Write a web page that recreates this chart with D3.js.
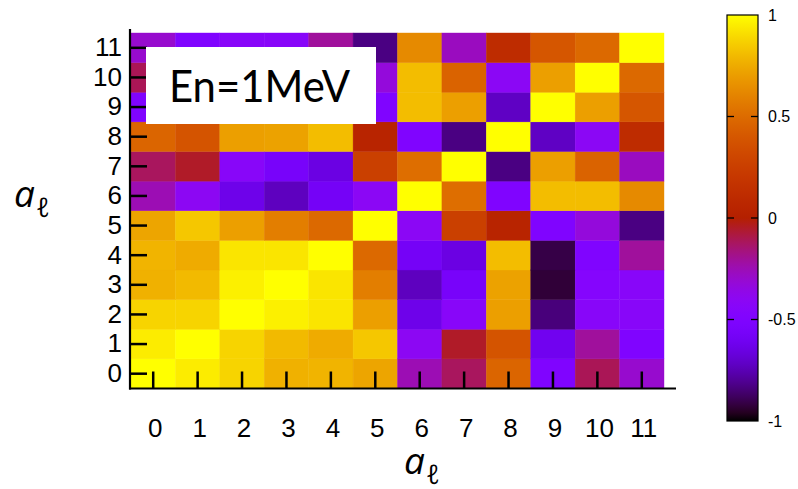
<!DOCTYPE html>
<html>
<head>
<meta charset="utf-8">
<script src="https://cdn.jsdelivr.net/npm/d3@7"></script>
<style>
    body { margin: 0; background: #fff; }
    svg { display: block; }
    .tick text { font-family: "Liberation Sans", Arial, sans-serif; font-size: 26px; fill: #000; }
    .cb-label { font-family: "Liberation Sans", Arial, sans-serif; font-size: 16px; fill: #000; }
    .axis-title { font-family: "Open Sans", "Noto Sans", sans-serif; font-style: italic; fill: #000; }
</style>
</head>
<body>
<div id="chart"></div>
<script>
// Tick labels (same on both axes)
const labels = d3.range(12);

// Correlation matrix, rows are the y value (0 at bottom), columns the x value
const row0  = [ 1.00,  0.95,  0.88,  0.77,  0.78,  0.73, -0.25, -0.12,  0.47, -0.50, -0.11, -0.30];
const row1  = [ 0.95,  1.00,  0.88,  0.80,  0.75,  0.84, -0.40, -0.05,  0.38, -0.61, -0.21, -0.50];
const row2  = [ 0.88,  0.88,  1.00,  0.96,  0.93,  0.71, -0.63, -0.43,  0.71, -0.84, -0.43, -0.43];
const row3  = [ 0.77,  0.80,  0.96,  1.00,  0.93,  0.58, -0.73, -0.56,  0.72, -0.93, -0.46, -0.43];
const row4  = [ 0.78,  0.75,  0.93,  0.93,  1.00,  0.49, -0.58, -0.65,  0.81, -0.91, -0.50, -0.21];
const row5  = [ 0.73,  0.84,  0.71,  0.58,  0.49,  1.00, -0.41,  0.26,  0.04, -0.50, -0.33, -0.83];
const row6  = [-0.25, -0.40, -0.63, -0.73, -0.58, -0.41,  1.00,  0.51, -0.50,  0.81,  0.81,  0.63];
const row7  = [-0.12, -0.05, -0.43, -0.56, -0.65,  0.26,  0.51,  1.00, -0.83,  0.71,  0.46, -0.27];
const row8  = [ 0.47,  0.38,  0.71,  0.72,  0.81,  0.04, -0.50, -0.83,  1.00, -0.72, -0.41,  0.11];
const row9  = [-0.50, -0.61, -0.84, -0.93, -0.91, -0.50,  0.81,  0.71, -0.72,  1.00,  0.71,  0.39];
const row10 = [-0.11, -0.21, -0.43, -0.46, -0.50, -0.33,  0.81,  0.46, -0.41,  0.71,  1.00,  0.49];
const row11 = [-0.30, -0.50, -0.43, -0.43, -0.21, -0.83,  0.63, -0.27,  0.11,  0.39,  0.49,  1.00];
const matrix = [row0, row1, row2, row3, row4, row5, row6, row7, row8, row9, row10, row11];

// Colour bar ticks
const cbTicks = [1, 0.5, 0, -0.5, -1];

const W = 798, H = 489;
const plot = { left: 131, right: 664, top: 33, bottom: 388.5 };
const bar = { x: 727, width: 31, top: 15, bottom: 421 };

// gnuplot default pm3d palette (rgbformulae 7,5,15)
const gnuplot = t => {
    const r = Math.sqrt(t);
    const g = t * t * t;
    const b = Math.max(0, Math.sin(2 * Math.PI * t));
    return d3.rgb(r * 255, g * 255, b * 255).formatHex();
};
const color = d3.scaleSequential(gnuplot).domain([-1, 1]);

const svg = d3.select("#chart")
    .append("svg")
    .attr("width", W)
    .attr("height", H);

// Scales
const x = d3.scaleBand().domain(labels).range([plot.left, plot.right]);
const y = d3.scaleBand().domain(labels).range([plot.bottom, plot.top]);

// Flatten matrix into cells
const cells = [];
matrix.forEach((row, ri) => row.forEach((v, ci) => cells.push({ xi: ci, yi: ri, v })));

svg.append("g")
    .selectAll("rect")
    .data(cells)
    .enter()
    .append("rect")
    .attr("x", d => x(d.xi))
    .attr("y", d => y(d.yi))
    .attr("width", x.bandwidth())
    .attr("height", y.bandwidth())
    .attr("fill", d => color(d.v))
    .attr("stroke", d => color(d.v))
    .attr("stroke-width", 0.4);

// Axes with inward ticks
const yAxis = svg.append("g")
    .attr("transform", `translate(${plot.left - 1},0)`)
    .call(d3.axisLeft(y).tickSize(-17).tickPadding(8));
yAxis.select(".domain").remove();
yAxis.selectAll(".tick line").attr("stroke", "#000").attr("stroke-width", 2.5);

const xAxis = svg.append("g")
    .attr("transform", `translate(0,${plot.bottom})`)
    .call(d3.axisBottom(x).tickSize(-17).tickPadding(30.5));
xAxis.select(".domain").remove();
xAxis.selectAll(".tick line").attr("stroke", "#000").attr("stroke-width", 2.5);
xAxis.selectAll(".tick text").attr("dx", 2);

// Axis lines (left one reaches a little above the map, bottom one past it)
svg.append("line")
    .attr("x1", plot.left - 1).attr("x2", plot.left - 1)
    .attr("y1", 29).attr("y2", plot.bottom + 1)
    .attr("stroke", "#000").attr("stroke-width", 2.2);
svg.append("line")
    .attr("x1", plot.left - 2).attr("x2", 676)
    .attr("y1", plot.bottom).attr("y2", plot.bottom)
    .attr("stroke", "#000").attr("stroke-width", 2.2);

// Energy label box
svg.append("rect")
    .attr("x", 146).attr("y", 47)
    .attr("width", 230).attr("height", 77)
    .attr("fill", "#fff");
svg.append("text")
    .attr("x", 169).attr("y", 102)
    .attr("textLength", 181)
    .attr("lengthAdjust", "spacingAndGlyphs")
    .style("font-family", "Lato, 'Open Sans', sans-serif")
    .style("font-size", "44px")
    .text("En=1MeV");

// Axis titles a_ℓ
function axisTitle(xPos, yPos) {
    const t = svg.append("text")
        .attr("class", "axis-title")
        .attr("x", xPos)
        .attr("y", yPos);
    t.append("tspan").style("font-size", "37px").text("a");
    t.append("tspan").attr("dy", 10).attr("dx", 1).style("font-size", "27px").text("\u2113");
}
axisTitle(14, 207);
axisTitle(404, 474);

// Colour bar
const cb = d3.scaleLinear().domain([-1, 1]).range([bar.bottom, bar.top]);
const defs = svg.append("defs");
const grad = defs.append("linearGradient")
    .attr("id", "cbGrad")
    .attr("x1", 0).attr("y1", 1)
    .attr("x2", 0).attr("y2", 0);
d3.range(0, 1.0001, 0.02).forEach(t => {
    grad.append("stop")
        .attr("offset", t)
        .attr("stop-color", gnuplot(t));
});
svg.append("rect")
    .attr("x", bar.x)
    .attr("y", cb(1))
    .attr("width", bar.width)
    .attr("height", cb(-1) - cb(1))
    .attr("fill", "url(#cbGrad)")
    .attr("stroke", "#000")
    .attr("stroke-width", 1.2);

// Small ticks on both sides of the bar
const innerTicks = cbTicks.filter(d => d > -1 && d < 1);
svg.selectAll(".cb-tick-l")
    .data(innerTicks)
    .enter()
    .append("line")
    .attr("x1", bar.x).attr("x2", bar.x + 7)
    .attr("y1", d => cb(d)).attr("y2", d => cb(d))
    .attr("stroke", "#000").attr("stroke-width", 1.3);
svg.selectAll(".cb-tick-r")
    .data(innerTicks)
    .enter()
    .append("line")
    .attr("x1", bar.x + bar.width - 7).attr("x2", bar.x + bar.width)
    .attr("y1", d => cb(d)).attr("y2", d => cb(d))
    .attr("stroke", "#000").attr("stroke-width", 1.3);

svg.selectAll(".cb-label")
    .data(cbTicks)
    .enter()
    .append("text")
    .attr("class", "cb-label")
    .attr("x", bar.x + bar.width + 10)
    .attr("y", d => cb(d))
    .attr("dy", "0.35em")
    .text(d => d);
</script>
</body>
</html>
